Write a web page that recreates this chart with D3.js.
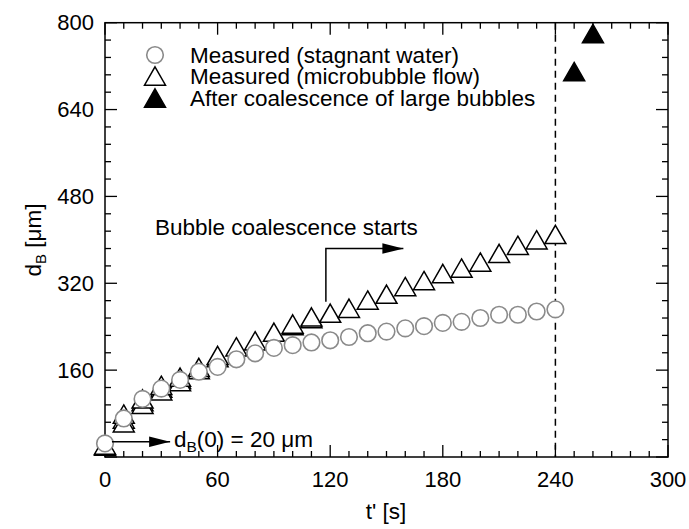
<!DOCTYPE html>
<html><head><meta charset="utf-8">
<script src="https://cdn.jsdelivr.net/npm/d3@7"></script>
<style>
html,body{margin:0;padding:0;background:#fff;}
svg{display:block;font-family:"Liberation Sans",Arial,sans-serif;}
</style></head>
<body><svg id="c" width="689" height="529"></svg>
<script>
// ---- data ----
const timeStagnant = [0,10,20,30,40,50,60,70,80,90,100,110,120,130,140,150,160,170,180,190,200,210,220,230,240];
const dStagnant    = [25,71,107,126,142,157,166,180,191,201,206,211,215,221,228,231,237,241,247,249,256,262,262,268,272];
const timeFlow = [0,10,20,30,40,50,60,70,80,90,100,110,120,130,140,150,160,170,180,190,200,210,220,230,240];
const dFlow    = [22,79,107,132,147,165,187,203,214,230,245,258,265,274,289,300,314,325,338,348,359,375,390,400,410];
// overlapping repeat measurements (microbubble flow)
const timeFlowRepeat = [0,10,10,20,20,30,30,40,40,50,60,100,110];
const dFlowRepeat    = [20,70,63,102,97,127,122,143,139,161,183,242,255];
const timeCoalesced = [250,260];
const dCoalesced    = [710,780];
const xTicks = [0,60,120,180,240,300];
const yTicks = [160,320,480,640,800];
const legendLabels = ["Measured (stagnant water)","Measured (microbubble flow)","After coalescence of large bubbles"];

// ---- layout ----
const svg = d3.select("#c");
const x = d3.scaleLinear().domain([0,300]).range([105,668]);
const y = d3.scaleLinear().domain([0,800]).range([457,22.7]);
const FS = 22, FT = 22.5;

function tri(s){ const h=s*0.87; return `M0,${-h/2}L${s/2},${h/2}L${-s/2},${h/2}Z`; }

// frame
svg.append("rect").attr("x",x(0)).attr("y",y(800)).attr("width",x(300)-x(0)).attr("height",y(0)-y(800))
  .attr("fill","none").attr("stroke","#000").attr("stroke-width",1.5);

// ticks
const xMinor = d3.range(0,301,10), yMinor = d3.range(0,801,32);
const g = svg.append("g").attr("stroke","#000").attr("stroke-width",1.3);
xMinor.forEach(v=>{
  const L = v%60===0 ? 12 : 6;
  g.append("line").attr("x1",x(v)).attr("x2",x(v)).attr("y1",y(0)).attr("y2",y(0)-L);
  g.append("line").attr("x1",x(v)).attr("x2",x(v)).attr("y1",y(800)).attr("y2",y(800)+L);
});
yMinor.forEach(v=>{
  const L = v%160===0 ? 12 : 6;
  g.append("line").attr("y1",y(v)).attr("y2",y(v)).attr("x1",x(0)).attr("x2",x(0)+L);
  g.append("line").attr("y1",y(v)).attr("y2",y(v)).attr("x1",x(300)).attr("x2",x(300)-L);
});
// tick labels
svg.append("g").selectAll("text").data(xTicks).join("text")
  .attr("x",d=>x(d)).attr("y",487).attr("text-anchor","middle").attr("font-size",FS).text(d=>d);
svg.append("g").selectAll("text").data(yTicks).join("text")
  .attr("x",94).attr("y",d=>y(d)).attr("dy","0.35em").attr("text-anchor","end").attr("font-size",FS).text(d=>d);

// axis titles
svg.append("text").attr("x",386).attr("y",519).attr("text-anchor","middle").attr("font-size",FT).text("t' [s]");
const yt = svg.append("text").attr("transform","translate(41,240) rotate(-90)").attr("text-anchor","middle").attr("font-size",FT);
yt.append("tspan").text("d");
yt.append("tspan").attr("font-size",15).attr("dy",5).text("B");
yt.append("tspan").attr("dy",-5).text(" [\u03bcm]");

// dashed line at 240
svg.append("line").attr("x1",x(240)).attr("x2",x(240)).attr("y1",y(800)).attr("y2",y(0))
  .attr("stroke","#000").attr("stroke-width",1.5).attr("stroke-dasharray","7,5");

// data: triangles (flow)
const triPath = tri(21);
svg.append("g").selectAll("path").data(d3.zip(timeFlowRepeat,dFlowRepeat)).join("path")
  .attr("d",triPath).attr("transform",d=>`translate(${x(d[0])},${y(d[1])})`)
  .attr("fill","#fff").attr("stroke","#000").attr("stroke-width",1.5);
svg.append("g").selectAll("path").data(d3.zip(timeFlow,dFlow)).join("path")
  .attr("d",triPath).attr("transform",d=>`translate(${x(d[0])},${y(d[1])})`)
  .attr("fill","#fff").attr("stroke","#000").attr("stroke-width",1.5);
// circles (stagnant)
svg.append("g").selectAll("circle").data(d3.zip(timeStagnant,dStagnant)).join("circle")
  .attr("cx",d=>x(d[0])).attr("cy",d=>y(d[1])).attr("r",8.3)
  .attr("fill","#fff").attr("stroke","#8a8a8a").attr("stroke-width",1.6);
// filled triangles
svg.append("g").selectAll("path").data(d3.zip(timeCoalesced,dCoalesced)).join("path")
  .attr("d",triPath).attr("transform",d=>`translate(${x(d[0])},${y(d[1])})`)
  .attr("fill","#000").attr("stroke","#000").attr("stroke-width",1.5);

// legend
const lg = svg.append("g");
const rowsY = [55,76,98];
lg.append("circle").attr("cx",155).attr("cy",rowsY[0]).attr("r",8.3).attr("fill","#fff").attr("stroke","#8a8a8a").attr("stroke-width",1.6);
lg.append("path").attr("d",triPath).attr("transform",`translate(155,${rowsY[1]})`).attr("fill","#fff").attr("stroke","#000").attr("stroke-width",1.5);
lg.append("path").attr("d",triPath).attr("transform",`translate(155,${rowsY[2]})`).attr("fill","#000").attr("stroke","#000").attr("stroke-width",1.5);
legendLabels.forEach((t,i)=>{
  lg.append("text").attr("x",190).attr("y",rowsY[i]).attr("dy","0.36em").attr("font-size",FT).text(t);
});

// arrowhead marker
svg.append("defs").append("marker").attr("id","ah").attr("viewBox","0 0 20 10").attr("refX",20).attr("refY",5)
  .attr("markerWidth",21).attr("markerHeight",11).attr("markerUnits","userSpaceOnUse").attr("orient","auto")
  .append("path").attr("d","M0,0L20,5L0,10Z").attr("fill","#000");

// annotation: d_B(0) = 20 um
svg.append("line").attr("x1",x(3.7)).attr("x2",x(34.7)).attr("y1",y(28)).attr("y2",y(28))
  .attr("stroke","#000").attr("stroke-width",1.5).attr("marker-end","url(#ah)");
const a1 = svg.append("text").attr("x",174).attr("y",447).attr("font-size",FT);
a1.append("tspan").text("d");
a1.append("tspan").attr("font-size",15.5).attr("dy",5).text("B");
a1.append("tspan").attr("dy",-5).text("(0) = 20 \u03bcm");

// annotation: Bubble coalescence starts
svg.append("path").attr("d",`M${x(117.7)},${y(286)}V${y(384)}H${x(159)}`)
  .attr("fill","none").attr("stroke","#000").attr("stroke-width",1.5).attr("marker-end","url(#ah)");
svg.append("text").attr("x",155).attr("y",235).attr("font-size",FT).text("Bubble coalescence starts");
</script></body></html>
